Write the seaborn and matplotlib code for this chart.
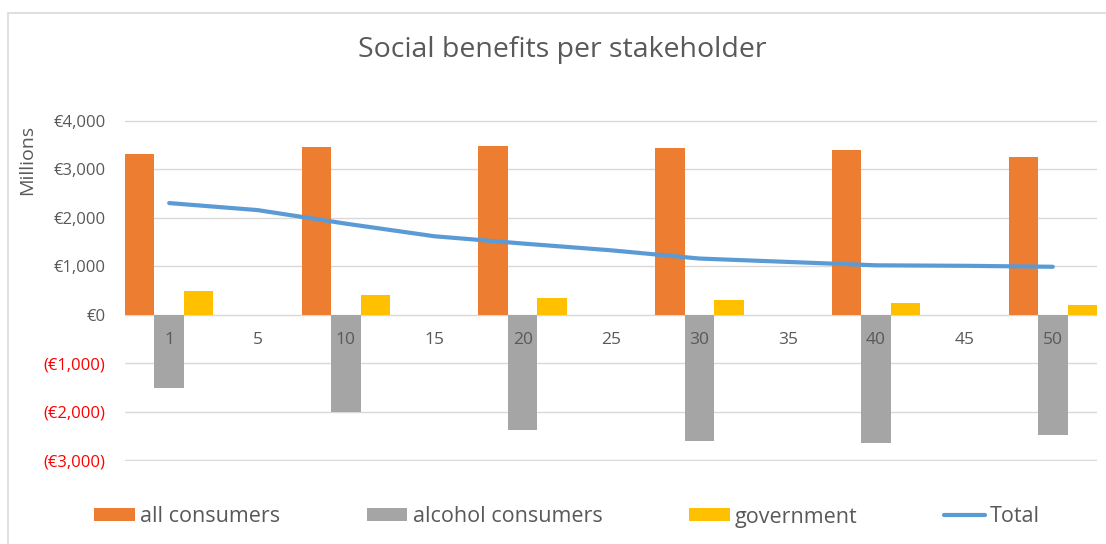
import numpy as np
import pandas as pd
import matplotlib
matplotlib.use("Agg")
import matplotlib.pyplot as plt
from matplotlib.patches import Patch, Rectangle
from matplotlib.lines import Line2D
import seaborn as sns

# Scenario index along the x axis
categories = ["1", "5", "10", "15", "20", "25", "30", "35", "40", "45", "50"]
bar_categories = ["1", "10", "20", "30", "40", "50"]

# Social benefits in € millions
all_consumers = [3320, 3470, 3490, 3450, 3410, 3260]
alcohol_consumers = [-1510, -2000, -2370, -2600, -2640, -2480]
government = [495, 410, 350, 310, 250, 210]
total = [2305, 2160, 1880, 1620, 1470, 1330, 1160, 1090, 1020, 1010, 990]

series_names = ["all consumers", "alcohol consumers", "government"]
line_name = "Total"
y_ticks = [-3000, -2000, -1000, 0, 1000, 2000, 3000, 4000]

colors = {"all consumers": "#ED7D31", "alcohol consumers": "#A5A5A5",
          "government": "#FFC000"}
line_color = "#5B9BD5"
text_color = "#595959"
grid_color = "#D9D9D9"

sns.set_theme(style="white")
plt.rcParams["font.family"] = ["Open Sans", "DejaVu Sans"]

bars = pd.DataFrame({
    "category": bar_categories * 3,
    "series": np.repeat(series_names, len(bar_categories)),
    "value": all_consumers + alcohol_consumers + government,
})

W, H = 1106, 544
fig = plt.figure(figsize=(W / 100, H / 100), dpi=100)
ax = fig.add_axes([125 / W, 1 - 461 / H, 972 / W, 341 / H])

sns.barplot(data=bars, x="category", y="value", hue="series",
            order=categories, hue_order=series_names, palette=colors,
            saturation=1, width=1.0, linewidth=0, legend=False, ax=ax,
            zorder=2)

sns.lineplot(x=np.arange(len(categories)), y=total, ax=ax, color=line_color,
             linewidth=3, legend=False, zorder=3,
             solid_capstyle="round", solid_joinstyle="round")

ax.set_xlim(-0.5, len(categories) - 0.5)
ax.set_ylim(y_ticks[0] - 20, y_ticks[-1] + 20)
ax.set_axisbelow(True)
ax.grid(axis="y", color=grid_color, linewidth=1)
ax.grid(axis="x", visible=False)
for s in ax.spines.values():
    s.set_visible(False)

# Category labels sit just under the zero line, over the bars
ax.set_xticks([])
ax.set_xlabel("")
for i, c in enumerate(categories):
    ax.annotate(c, (i, 0), xytext=(0, -25), textcoords="offset pixels",
                ha="center", va="center", fontsize=12.5, color=text_color,
                zorder=5)

def euro(v):
    if v < 0:
        return f"(€{-v:,})"
    return f"€{v:,}"

ax.set_yticks(y_ticks)
ax.set_yticklabels([euro(v) for v in y_ticks], fontsize=12)
ax.tick_params(axis="y", length=0, pad=14)
for lab, v in zip(ax.get_yticklabels(), y_ticks):
    lab.set_color("#FF0000" if v < 0 else text_color)
ax.set_ylabel("")

fig.text(27 / W, 1 - 160 / H, "Millions", rotation=90, ha="center",
         va="center", fontsize=14, color=text_color)
fig.text(562 / W, 1 - 50 / H, "Social benefits per stakeholder",
         ha="center", va="center", fontsize=20.5, color=text_color)

handles = [Patch(facecolor=colors[n], edgecolor="none") for n in series_names]
handles.append(Line2D([0], [0], color=line_color, linewidth=3,
                      solid_capstyle="round"))
fig.legend(handles, series_names + [line_name], loc="center",
           bbox_to_anchor=(567 / W, 1 - 517 / H), ncol=4, frameon=False,
           fontsize=15.5, handlelength=1.9, handleheight=0.55,
           handletextpad=0.25, columnspacing=4.0, labelcolor=text_color)

# Chart area frame
fig.patches.append(Rectangle((8 / W, -0.05), 1.1, 1 - 13 / H + 0.05,
                             transform=fig.transFigure, fill=False,
                             edgecolor=grid_color, linewidth=1.2))

fig.savefig("out.png", dpi=100)
